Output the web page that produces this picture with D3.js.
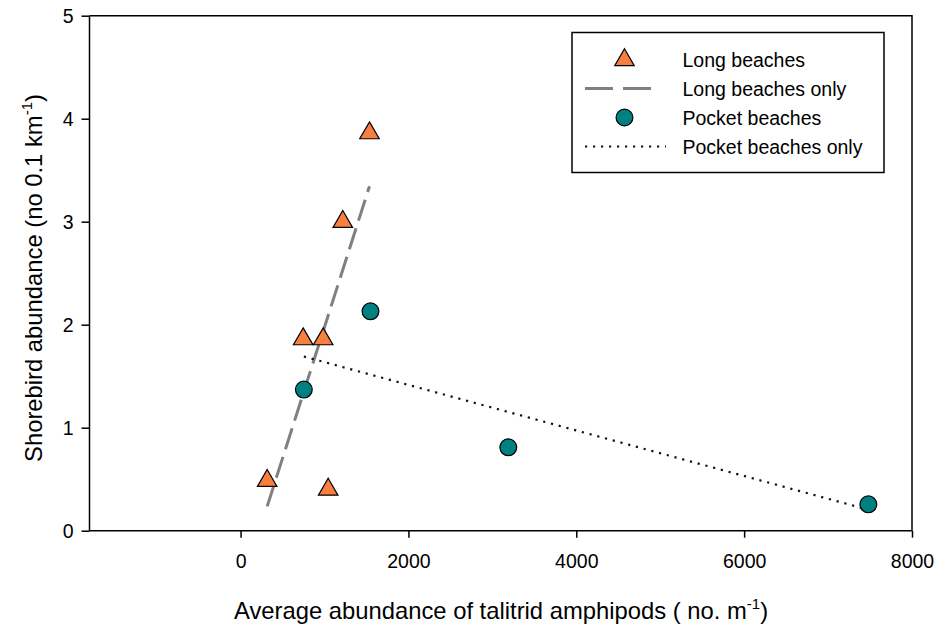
<!DOCTYPE html>
<html>
<head>
<meta charset="utf-8">
<script src="https://cdn.jsdelivr.net/npm/d3@7"></script>
<style>
  html, body { margin: 0; padding: 0; background: #fff; }
  svg text { font-family: "Liberation Sans", Arial, sans-serif; fill: #000; }
</style>
</head>
<body>
<svg id="chart" width="937" height="629"></svg>
<script>
// Long beaches: talitrid amphipod abundance vs shorebird abundance
const longX = [317, 746, 984, 1044, 1218, 1536];
const longY = [0.485, 1.86, 1.86, 0.40, 3.0, 3.86];
// Pocket beaches
const pocketX = [754, 1548, 3190, 7480];
const pocketY = [1.37, 2.13, 0.81, 0.256];
// Regression fits (endpoints of each fitted line)
const longFitX = [317, 1536];
const longFitY = [0.236, 3.344];
const pocketFitX = [754, 7480];
const pocketFitY = [1.691, 0.204];

const xTicks = [0, 2000, 4000, 6000, 8000];
const yTicks = [0, 1, 2, 3, 4, 5];
const legendLabels = ["Long beaches", "Long beaches only", "Pocket beaches", "Pocket beaches only"];

const orange = "#f97f40";
const teal = "#008080";

const svg = d3.select("#chart");
const m = { left: 89.5, top: 15.7, right: 912, bottom: 530.7 };

const x = d3.scaleLinear().domain([-1800, 8000]).range([m.left, m.right]);
const y = d3.scaleLinear().domain([0, 5]).range([m.bottom, m.top]);

// frame (top and right)
svg.append("path")
  .attr("d", `M${m.left},${m.top}H${m.right}V${m.bottom}`)
  .attr("fill", "none").attr("stroke", "#000").attr("stroke-width", 1.5);

// axes
const xAxis = svg.append("g").attr("transform", `translate(0,${m.bottom})`)
  .call(d3.axisBottom(x).tickValues(xTicks).tickSize(7).tickPadding(16).tickFormat(d3.format("d")));
const yAxis = svg.append("g").attr("transform", `translate(${m.left},0)`)
  .call(d3.axisLeft(y).tickValues(yTicks).tickSize(8).tickPadding(8).tickFormat(d3.format("d")));
[xAxis, yAxis].forEach(g => {
  g.select(".domain").attr("stroke", "#000").attr("stroke-width", 1.5);
  g.selectAll(".tick line").attr("stroke", "#000").attr("stroke-width", 1.5);
  g.selectAll(".tick text").attr("font-size", 19.5).attr("fill", "#000")
    .style("font-family", '"Liberation Sans", Arial, sans-serif');
});
yAxis.selectAll(".tick text").attr("dy", "0.36em");
// plain axis lines without the outer end ticks
xAxis.select(".domain").attr("d", `M${m.left},0H${m.right}`);
yAxis.select(".domain").attr("d", `M0,${m.top}V${m.bottom}`);

// axis titles
const xt = svg.append("text").attr("x", 501).attr("y", 619)
  .attr("text-anchor", "middle").attr("font-size", 23.8);
xt.append("tspan").text("Average abundance of talitrid amphipods ( no. m");
xt.append("tspan").attr("font-size", 15).attr("dy", -10).text("-1");
xt.append("tspan").attr("dy", 10).text(")");

const yt = svg.append("text")
  .attr("transform", "translate(42,278) rotate(-90)")
  .attr("text-anchor", "middle").attr("font-size", 23.8);
yt.append("tspan").text("Shorebird abundance (no 0.1 km");
yt.append("tspan").attr("font-size", 15).attr("dy", -10).text("-1");
yt.append("tspan").attr("dy", 10).text(")");

// fitted lines
const line = d3.line().x(d => x(d[0])).y(d => y(d[1]));
svg.append("path").datum(d3.zip(longFitX, longFitY)).attr("d", line)
  .attr("fill", "none").attr("stroke", "#808080").attr("stroke-width", 3)
  .attr("stroke-dasharray", "22,8");
svg.append("path").datum(d3.zip(pocketFitX, pocketFitY)).attr("d", line)
  .attr("fill", "none").attr("stroke", "#111").attr("stroke-width", 2.2)
  .attr("stroke-dasharray", "2.2,5.8");

// markers
const tri = d3.symbol().type(d3.symbolTriangle).size(165);
svg.append("g").selectAll("path").data(d3.zip(longX, longY)).join("path")
  .attr("d", tri)
  .attr("transform", d => `translate(${x(d[0])},${y(d[1])})`)
  .attr("fill", orange).attr("stroke", "#000").attr("stroke-width", 1.2);

svg.append("g").selectAll("circle").data(d3.zip(pocketX, pocketY)).join("circle")
  .attr("cx", d => x(d[0])).attr("cy", d => y(d[1])).attr("r", 8.4)
  .attr("fill", teal).attr("stroke", "#000").attr("stroke-width", 1.2);

// legend
const lg = svg.append("g");
lg.append("rect").attr("x", 572).attr("y", 32.5).attr("width", 312).attr("height", 140)
  .attr("fill", "#fff").attr("stroke", "#000").attr("stroke-width", 1.5);
const rows = [60, 88.5, 117.5, 146.5];
lg.append("path").attr("d", tri).attr("transform", `translate(624.5,${rows[0]})`)
  .attr("fill", orange).attr("stroke", "#000").attr("stroke-width", 1.2);
lg.append("line").attr("x1", 585).attr("x2", 652).attr("y1", rows[1]).attr("y2", rows[1])
  .attr("stroke", "#808080").attr("stroke-width", 3).attr("stroke-dasharray", "28,10");
lg.append("circle").attr("cx", 624.5).attr("cy", rows[2]).attr("r", 8.4)
  .attr("fill", teal).attr("stroke", "#000").attr("stroke-width", 1.2);
lg.append("line").attr("x1", 585).attr("x2", 666).attr("y1", rows[3]).attr("y2", rows[3])
  .attr("stroke", "#111").attr("stroke-width", 2.2).attr("stroke-dasharray", "2.2,5.8");
lg.selectAll("text.lbl").data(legendLabels).join("text").attr("class", "lbl")
  .attr("x", 682.5).attr("y", (d, i) => rows[i] + 7).attr("font-size", 19.5).text(d => d);
</script>
</body>
</html>
